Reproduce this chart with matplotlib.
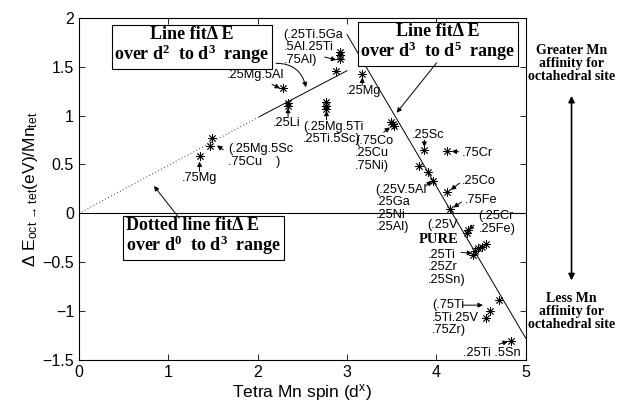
import numpy as np
import matplotlib
matplotlib.use("Agg")
import matplotlib.pyplot as plt

plt.rcParams['font.family'] = 'Liberation Sans'
plt.rcParams['mathtext.fontset'] = 'custom'
plt.rcParams['mathtext.rm'] = 'Liberation Sans'
plt.rcParams['mathtext.it'] = 'Liberation Sans:italic'
plt.rcParams['mathtext.bf'] = 'Liberation Serif:bold'

# ---------- data: tetra Mn spin vs dE (eV) ----------
spin = [1.35, 1.47, 1.49,
        2.28, 2.34, 2.34,
        2.77, 2.77, 2.77,
        2.88, 2.92, 2.92, 2.92,
        3.17,
        3.49, 3.51, 3.52,
        3.865, 4.115,
        3.80, 3.90, 3.965,
        4.115, 4.15,
        4.34, 4.355,
        4.41, 4.43, 4.47, 4.51, 4.55,
        4.70, 4.60, 4.555,
        4.835]
dE = [0.59, 0.69, 0.77,
      1.28, 1.13, 1.10,
      1.14, 1.10, 1.07,
      1.46, 1.65, 1.62, 1.58,
      1.43,
      0.93, 0.91, 0.89,
      0.65, 0.64,
      0.48, 0.42, 0.335,
      0.22, 0.04,
      -0.20, -0.17,
      -0.43, -0.39, -0.36, -0.34, -0.31,
      -0.886, -1.0, -1.074,
      -1.306]

# fitted lines (end points)
fit_d0d3_x = [0.0, 2.02]
fit_d0d3_y = [0.0, 0.99]
fit_d2d3_x = [2.02, 3.0]
fit_d2d3_y = [0.99, 1.46]
fit_d3d5_x = [3.0, 5.0]
fit_d3d5_y = [1.83, -1.28]

xticks = [0, 1, 2, 3, 4, 5]
yticks = [-1.5, -1, -0.5, 0, 0.5, 1, 1.5, 2]
yticklabels = ['\u22121.5', '\u22121', '\u22120.5', '0', '0.5', '1', '1.5', '2']

fig = plt.figure(figsize=(6.26, 4.08), dpi=100)
ax = fig.add_axes([0.126, 0.118, 0.714, 0.838])

ax.plot([0, 5], [0, 0], color='k', lw=0.8)
ax.plot(fit_d0d3_x, fit_d0d3_y, color='k', lw=0.8, ls=(0, (0.6, 2.4)))
ax.plot(fit_d2d3_x, fit_d2d3_y, color='k', lw=0.7)
ax.plot(fit_d3d5_x, fit_d3d5_y, color='k', lw=0.7)
ax.plot(spin, dE, ls='none', marker=(8, 2, 0), ms=6, mew=0.6, color='k')

ax.set_xlim(0, 5)
ax.set_ylim(-1.5, 2)
ax.set_xticks(xticks)
ax.set_xticklabels([str(t) for t in xticks])
ax.set_yticks(yticks)
ax.set_yticklabels(yticklabels)
ax.tick_params(direction='in', top=True, right=True, length=4, width=0.6,
               labelsize=11.5)
for s in ax.spines.values():
    s.set_linewidth(0.8)

ax.set_xlabel(r"Tetra Mn spin (d$^{\rm x}$)", fontsize=12.5, labelpad=2)
ax.set_ylabel(r"$\Delta$ E$_{\rm oct\,\rightarrow\,tet}$(eV)/Mn$_{\rm tet}$",
              fontsize=12.5, labelpad=2)

# ---------- small labels with arrows ----------
fs = 9.2
arr = dict(arrowstyle='-|>', color='k', lw=0.7, mutation_scale=7,
           shrinkA=0, shrinkB=0)

labels = [
    ("(.25Ti.5Ga\n.5Al.25Ti\n.75Al)", 2.29, 1.70, (2.75, 1.60), (2.88, 1.57)),
    (".25Mg.5Al", 1.66, 1.42, (2.16, 1.32), (2.25, 1.28)),
    (".25Li", 2.17, 0.92, (2.34, 0.99), (2.34, 1.08)),
    ("(.25Mg.5Ti\n.25Ti.5Sc)", 2.51, 0.82, (2.77, 0.96), (2.77, 1.05)),
    ("(.25Mg.5Sc\n.75Cu    )", 1.67, 0.59, (1.615, 0.65), (1.545, 0.695)),
    (".75Mg", 1.15, 0.36, (1.35, 0.43), (1.35, 0.53)),
    (".25Mg", 2.99, 1.25, (3.17, 1.31), (3.17, 1.39)),
    ("(.75Co\n.25Cu\n.75Ni)", 3.09, 0.615, (3.41, 0.83), (3.48, 0.88)),
    (".25Sc", 3.72, 0.80, (3.865, 0.75), (3.865, 0.68)),
    (".75Cr", 4.28, 0.615, (4.25, 0.63), (4.17, 0.635)),
    ("(.25V.5Al\n.25Ga\n.25Ni\n.25Al)", 3.32, 0.05, (3.88, 0.28), (3.95, 0.33)),
    (".25Co", 4.29, 0.33, (4.26, 0.31), (4.16, 0.24)),
    (".75Fe", 4.32, 0.137, (4.28, 0.115), (4.19, 0.06)),
    ("(.25Cr\n.25Fe)", 4.47, -0.093, (4.42, -0.12), (4.36, -0.17)),
    ("(.25V", 3.90, -0.119, None, None),
    (".25Ti\n.25Zr\n.25Sn)", 3.90, -0.554, (4.275, -0.40), (4.40, -0.41)),
    ("(.75Ti\n.5Ti.25V\n.75Zr)", 3.95, -1.07, (4.30, -0.94), (4.52, -0.94)),
    (".25Ti .5Sn", 4.30, -1.43, (4.70, -1.34), (4.80, -1.31)),
]
for txt, tx, ty, tail, tip in labels:
    ax.text(tx, ty, txt, fontsize=fs, ha='left', va='center', linespacing=1.05)
    if tail is not None:
        ax.annotate('', xy=tip, xytext=tail, arrowprops=arr)

ax.text(3.80, -0.265, "PURE", fontsize=10.5, family='Liberation Serif',
        weight='bold', ha='left', va='center')

# ---------- boxed fit labels ----------
box = dict(boxstyle='square,pad=0.15', fc='white', ec='k', lw=0.8)
bfs = 13
ax.text(1.267, 1.71, "Line fit\u0394 E\nover $\\mathbf{d^2}$  to $\\mathbf{d^3}$  range",
        fontsize=bfs, family='Liberation Serif', weight='bold', ha='center',
        va='center', ma='center', linespacing=1.0, bbox=box)
ax.text(4.016, 1.746, "Line fit\u0394 E\nover $\\mathbf{d^3}$  to $\\mathbf{d^5}$  range",
        fontsize=bfs, family='Liberation Serif', weight='bold', ha='center',
        va='center', ma='center', linespacing=1.0, bbox=box)
ax.text(1.391, -0.244, "Dotted line fit\u0394 E\nover $\\mathbf{d^0}$  to $\\mathbf{d^3}$  range",
        fontsize=bfs, family='Liberation Serif', weight='bold', ha='center',
        va='center', ma='left', linespacing=1.0, bbox=box)

ax.annotate('', xy=(2.54, 1.29), xytext=(2.205, 1.536),
            arrowprops=dict(arr, connectionstyle='arc3,rad=-0.4'))
ax.annotate('', xy=(3.555, 1.03), xytext=(4.003, 1.542), arrowprops=arr)
ax.annotate('', xy=(0.84, 0.28), xytext=(1.123, -0.05), arrowprops=arr)

# ---------- right side notes ----------
fig.text(0.913, 0.845, "Greater Mn\naffinity for\noctahedral site",
         fontsize=10, family='Liberation Serif', weight='bold',
         ha='center', va='center', linespacing=1.0)
fig.text(0.913, 0.237, "Less Mn\naffinity for\noctahedral site",
         fontsize=10, family='Liberation Serif', weight='bold',
         ha='center', va='center', linespacing=1.0)
fig.add_artist(matplotlib.patches.FancyArrowPatch(
    (0.913, 0.772), (0.913, 0.306), transform=fig.transFigure,
    arrowstyle='<|-|>', mutation_scale=9, lw=1.2, color='k'))

fig.savefig("out.png", dpi=100)
